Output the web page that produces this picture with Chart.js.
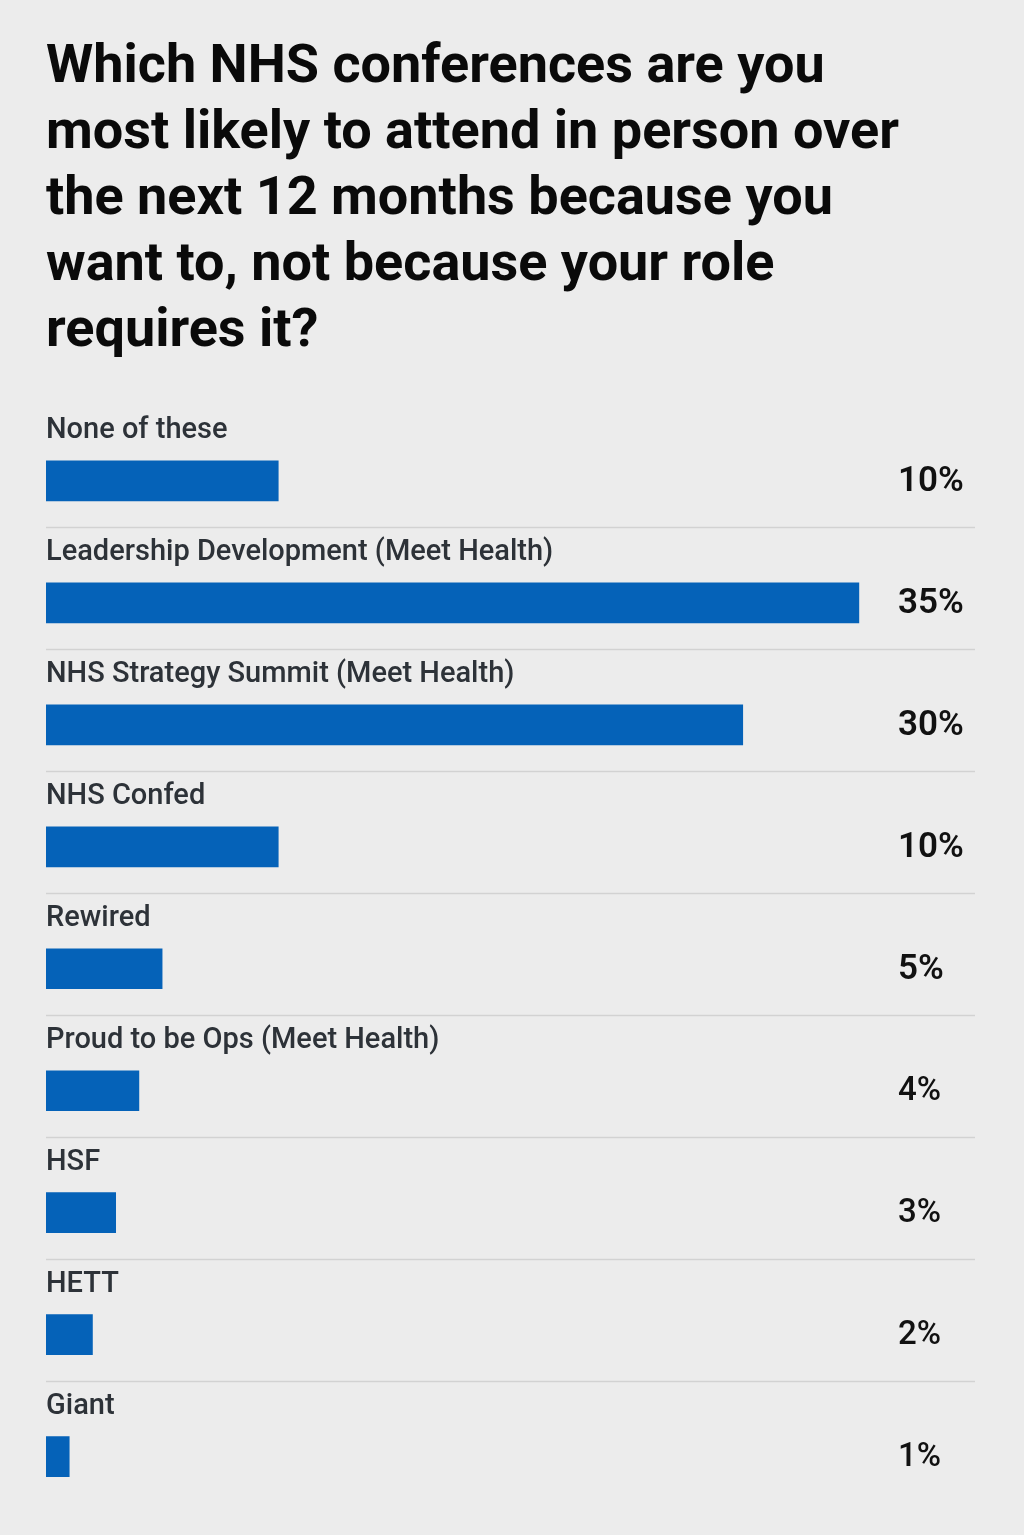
<!DOCTYPE html>
<html>
<head>
<meta charset="utf-8">
<script src="https://cdn.jsdelivr.net/npm/chart.js@4/dist/chart.umd.min.js"></script>
<style>
  html, body { margin: 0; padding: 0; background: #ececec; }
  #wrap { width: 1024px; height: 1535px; }
</style>
</head>
<body>
<div id="wrap"><canvas id="chart"></canvas></div>
<script>
const titleLines = [
  "Which NHS conferences are you",
  "most likely to attend in person over",
  "the next 12 months because you",
  "want to, not because your role",
  "requires it?"
]
const conferences = [
  "None of these",
  "Leadership Development (Meet Health)",
  "NHS Strategy Summit (Meet Health)",
  "NHS Confed",
  "Rewired",
  "Proud to be Ops (Meet Health)",
  "HSF",
  "HETT",
  "Giant"
]
const shares = [10, 35, 30, 10, 5, 4, 3, 2, 1]
const axisMax = 40

// separator under each row + percentage on the right
const rowDecor = {
  id: "rowDecor",
  afterDatasetsDraw(chart) {
    const { ctx, chartArea } = chart
    const bars = chart.getDatasetMeta(0).data
    ctx.save()
    bars.forEach((bar, i) => {
      if (i < bars.length - 1) {
        const y = Math.round(bar.y + bar.height / 2 + 26) + 0.5
        ctx.strokeStyle = "#d2d2d2"
        ctx.lineWidth = 1.5
        ctx.beginPath()
        ctx.moveTo(chartArea.left, y)
        ctx.lineTo(chartArea.right, y)
        ctx.stroke()
      }
      ctx.fillStyle = "#111111"
      ctx.font = (i < 5 ? "600 35px" : "500 33px") + " Roboto"
      ctx.textAlign = "left"
      ctx.textBaseline = "middle"
      ctx.fillText(shares[i] + "%", chartArea.right - 77, bar.y + 1)
    })
    ctx.restore()
  }
}

new Chart(document.getElementById("chart").getContext("2d"), {
  type: "bar",
  data: {
    labels: conferences,
    datasets: [
      {
        data: shares,
        backgroundColor: "#0562b8",
        barThickness: 40,
        borderWidth: 0,
      },
    ],
  },
  options: {
    indexAxis: "y",
    responsive: true,
    maintainAspectRatio: false,
    animation: false,
    layout: { padding: { left: 46, right: 49, top: 0, bottom: 12 } },
    scales: {
      x: {
        display: false,
        min: 0,
        max: axisMax,
      },
      y: {
        grid: { display: false, drawTicks: false },
        border: { display: false },
        ticks: {
          mirror: true,
          padding: 0,
          labelOffset: -50,
          color: "#2d3238",
          font: { family: "Roboto", size: 29, weight: "500" },
        },
      },
    },
    plugins: {
      legend: { display: false },
      tooltip: { enabled: false },
      title: {
        display: true,
        text: titleLines,
        align: "start",
        color: "#0a0a0a",
        font: { family: "Roboto", size: 54, weight: "700", lineHeight: 1.222 },
        padding: { top: 36, bottom: 54 },
      },
    },
  },
  plugins: [rowDecor],
})
</script>
</body>
</html>
